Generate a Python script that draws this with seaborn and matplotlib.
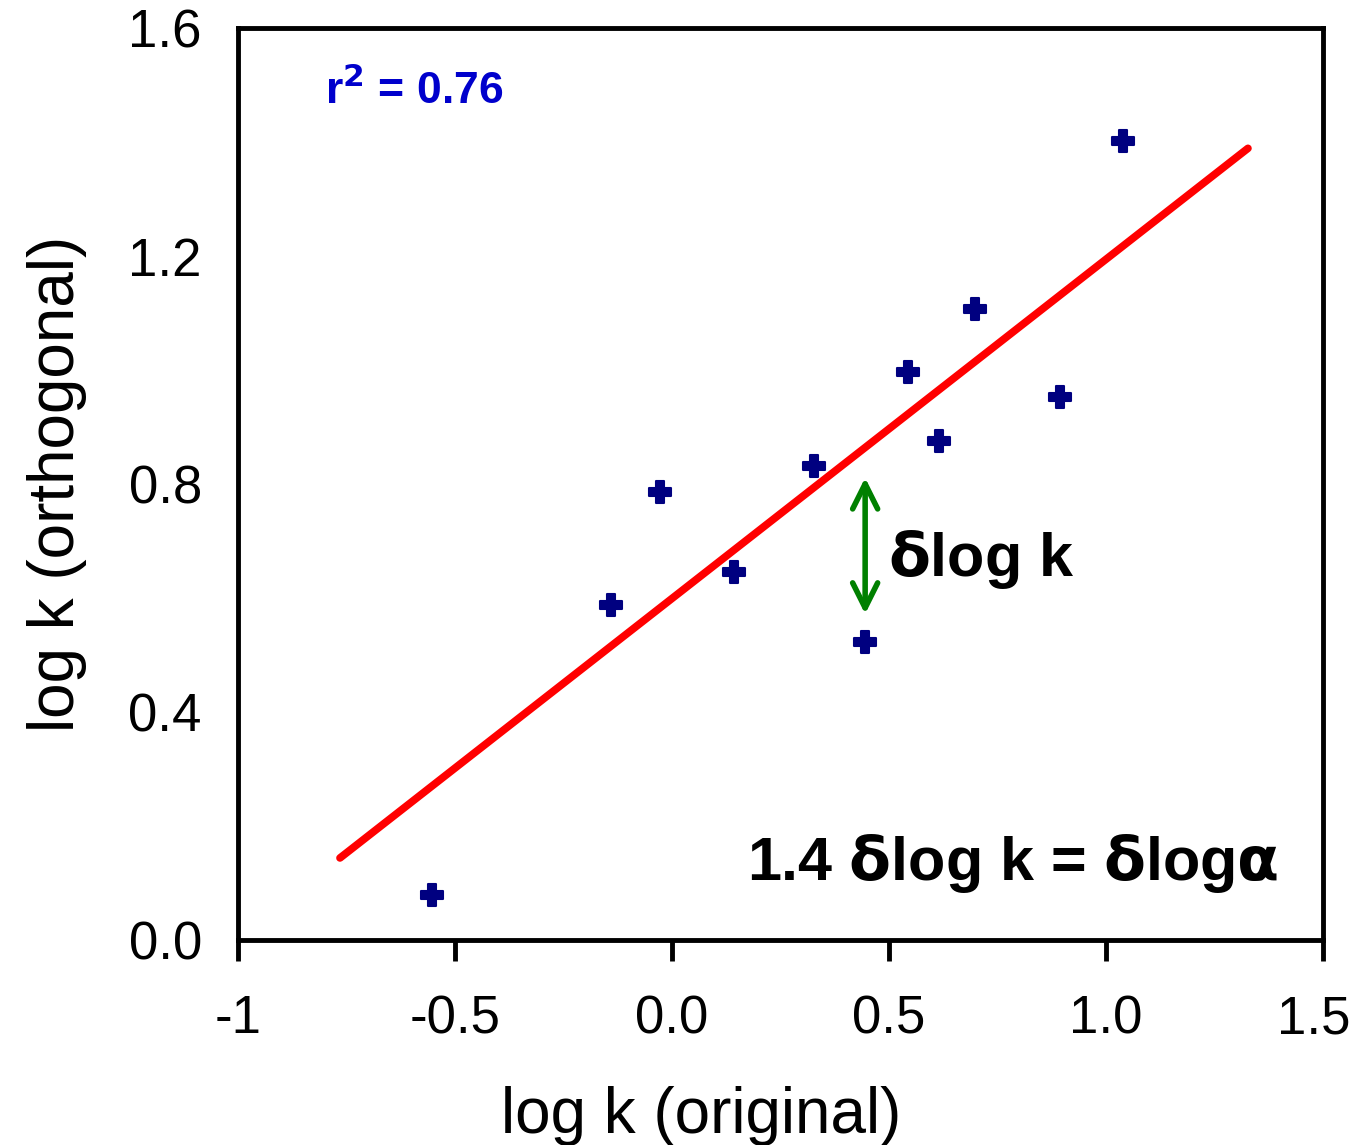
import numpy as np
import pandas as pd
import matplotlib
matplotlib.use('Agg')
import matplotlib.pyplot as plt
import matplotlib.transforms as mtransforms
import seaborn as sns

# points
log_k_original = [-0.553, -0.141, -0.028, 0.143, 0.327, 0.445, 0.544, 0.615, 0.698, 0.894, 1.039]
log_k_orthogonal = [0.079, 0.588, 0.786, 0.646, 0.832, 0.523, 0.996, 0.875, 1.107, 0.953, 1.402]

# fitted line end points
fit_x = [-0.765, 1.327]
fit_y = [0.144, 1.389]

# arrow showing delta log k
arrow_x = 0.445
arrow_y = [0.567, 0.816]

x_ticks = [-1, -0.5, 0.0, 0.5, 1.0, 1.5]
x_labels = ['-1', '-0.5', '0.0', '0.5', '1.0', '1.5']
y_ticks = [0.0, 0.4, 0.8, 1.2, 1.6]
y_labels = ['0.0', '0.4', '0.8', '1.2', '1.6']

df = pd.DataFrame({'orig': log_k_original, 'orth': log_k_orthogonal})
line_df = pd.DataFrame({'x': fit_x, 'y': fit_y})

sns.set_style('white')
plt.rcParams['font.family'] = ['Liberation Sans', 'DejaVu Sans']
plt.rcParams['text.color'] = 'black'
plt.rcParams['axes.labelcolor'] = 'black'
plt.rcParams['xtick.color'] = 'black'
plt.rcParams['ytick.color'] = 'black'

fig = plt.figure(figsize=(13.56, 11.45), dpi=100)
ax = fig.add_axes([0.1755, 0.179, 0.8002, 0.7965])

sns.lineplot(data=line_df, x='x', y='y', color='#ff0000', linewidth=5.5, ax=ax)
sns.scatterplot(data=df, x='orig', y='orth', marker='P', s=230, color='#000080',
                edgecolor='#000080', linewidth=1.5, ax=ax, zorder=3)

ax.annotate('', xy=(arrow_x, arrow_y[0]), xytext=(arrow_x, arrow_y[1]),
            arrowprops=dict(arrowstyle='<->', color='#008000', lw=4,
                            mutation_scale=45))

ax.text(0.497, 0.668, r'$\mathbf{\delta}$log k', fontsize=44, fontweight='bold',
        va='center', ha='left')
ax.text(1.396, 0.135, r'1.4 $\mathbf{\delta}$log k = $\mathbf{\delta}$log$\mathbf{\alpha}$',
        fontsize=44, fontweight='bold', va='center', ha='right')
ax.text(-0.80, 1.49, 'r$^{\\mathbf{2}}$ = 0.76', fontsize=32, fontweight='bold',
        color='#0000cc', va='center', ha='left')

ax.set_xlim(-1, 1.5)
ax.set_ylim(0, 1.6)
ax.set_xticks(x_ticks)
ax.set_xticklabels(x_labels)
ax.set_yticks(y_ticks)
ax.set_yticklabels(y_labels)
ax.tick_params(axis='x', direction='out', length=15, width=3.5, labelsize=38, pad=24,
               bottom=True)
ax.tick_params(axis='y', length=0, labelsize=38, pad=26)
for s in ax.spines.values():
    s.set_linewidth(3.5)
    s.set_color('black')

# nudge the last x label so it stays inside the figure
last = ax.get_xticklabels()[-1]
last.set_transform(last.get_transform() +
                   mtransforms.ScaledTranslation(-7 / 72, 0, fig.dpi_scale_trans))

ax.set_xlabel('log k (original)', fontsize=46)
ax.xaxis.set_label_coords(0.427, -0.16)
ax.set_ylabel('log k (orthogonal)', fontsize=46, labelpad=30)

fig.savefig('out.png', dpi=100)
